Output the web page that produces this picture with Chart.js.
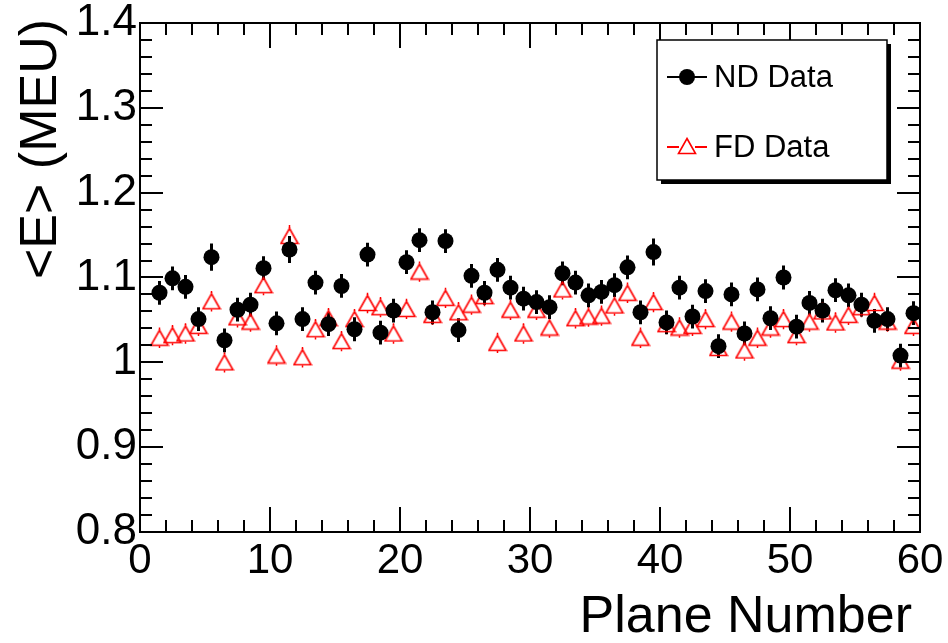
<!DOCTYPE html>
<html>
<head>
<meta charset="utf-8">
<script src="https://cdn.jsdelivr.net/npm/chart.js@4"></script>
<style>
  html, body { margin: 0; padding: 0; background: #fff; }
  #wrap { width: 948px; height: 643px; }
</style>
</head>
<body>
<div id="wrap"><canvas id="chart" width="948" height="643"></canvas></div>
<script>
// Plane numbers (bin centres)
const planes = [
  1.5, 2.5, 3.5, 4.5, 5.5, 6.5, 7.5, 8.5, 9.5, 10.5,
  11.5, 12.5, 13.5, 14.5, 15.5, 16.5, 17.5, 18.5, 19.5, 20.5,
  21.5, 22.5, 23.5, 24.5, 25.5, 26.5, 27.5, 28.5, 29.5, 30.5,
  31.5, 32.5, 33.5, 34.5, 35.5, 36.5, 37.5, 38.5, 39.5, 40.5,
  41.5, 42.5, 43.5, 44.5, 45.5, 46.5, 47.5, 48.5, 49.5, 50.5,
  51.5, 52.5, 53.5, 54.5, 55.5, 56.5, 57.5, 58.5, 59.5
];

// <E> (MEU), near detector
const ndMean = [
  1.082, 1.099, 1.089, 1.051, 1.124, 1.026, 1.062, 1.068, 1.111, 1.046,
  1.133, 1.051, 1.094, 1.045, 1.090, 1.039, 1.127, 1.035, 1.061, 1.118,
  1.144, 1.059, 1.143, 1.038, 1.102, 1.082, 1.109, 1.088, 1.075, 1.071,
  1.065, 1.105, 1.094, 1.079, 1.083, 1.091, 1.112, 1.059, 1.130, 1.047,
  1.088, 1.054, 1.084, 1.019, 1.080, 1.034, 1.086, 1.052, 1.100, 1.042,
  1.070, 1.061, 1.085, 1.079, 1.068, 1.049, 1.051, 1.008, 1.058
];
const ndErr = [
  0.014, 0.014, 0.014, 0.014, 0.016, 0.014, 0.014, 0.014, 0.014, 0.014,
  0.016, 0.014, 0.014, 0.014, 0.014, 0.014, 0.014, 0.014, 0.014, 0.014,
  0.014, 0.014, 0.014, 0.014, 0.014, 0.014, 0.014, 0.014, 0.014, 0.014,
  0.014, 0.014, 0.014, 0.014, 0.014, 0.014, 0.014, 0.014, 0.016, 0.014,
  0.014, 0.014, 0.014, 0.014, 0.014, 0.014, 0.014, 0.014, 0.014, 0.014,
  0.014, 0.014, 0.014, 0.014, 0.014, 0.014, 0.014, 0.014, 0.014
];

// <E> (MEU), far detector
const fdMean = [
  1.029, 1.032, 1.034, 1.043, 1.072, 1.000, 1.053, 1.048, 1.091, 1.008,
  1.149, 1.006, 1.039, 1.052, 1.025, 1.051, 1.070, 1.065, 1.034, 1.063,
  1.107, 1.056, 1.076, 1.059, 1.068, 1.078, 1.023, 1.062, 1.034, 1.062,
  1.041, 1.086, 1.052, 1.054, 1.055, 1.067, 1.082, 1.029, 1.071, 1.045,
  1.041, 1.043, 1.051, 1.017, 1.048, 1.014, 1.029, 1.041, 1.051, 1.032,
  1.048, 1.060, 1.047, 1.056, 1.065, 1.070, 1.048, 1.002, 1.043
];
const fdErr = [
  0.012, 0.012, 0.012, 0.012, 0.012, 0.012, 0.012, 0.012, 0.012, 0.012,
  0.013, 0.012, 0.012, 0.012, 0.012, 0.012, 0.012, 0.012, 0.012, 0.012,
  0.012, 0.012, 0.012, 0.012, 0.012, 0.012, 0.012, 0.012, 0.012, 0.012,
  0.012, 0.012, 0.012, 0.012, 0.012, 0.012, 0.012, 0.012, 0.012, 0.012,
  0.012, 0.012, 0.012, 0.012, 0.012, 0.012, 0.012, 0.012, 0.012, 0.012,
  0.012, 0.012, 0.012, 0.012, 0.012, 0.012, 0.012, 0.012, 0.012
];

const xTicks = [0, 10, 20, 30, 40, 50, 60];
const yTicks = [0.8, 0.9, 1.0, 1.1, 1.2, 1.3, 1.4];
const xTitle = 'Plane Number';
const yTitle = '<E> (MEU)';

const FONT = "'Liberation Sans', Arial, Helvetica, sans-serif";
const RED = '#ff0000';

// open triangle marker, drawn symmetric about its centre like ROOT's
function makeTriangle() {
  const c = document.createElement('canvas');
  c.width = 20; c.height = 18;
  const g = c.getContext('2d');
  g.strokeStyle = RED;
  g.lineWidth = 1.6;
  g.beginPath();
  g.moveTo(10, 1.5);
  g.lineTo(18.5, 16.5);
  g.lineTo(1.5, 16.5);
  g.closePath();
  g.stroke();
  return c;
}
const triMarker = makeTriangle();

const toPts = (ys) => planes.map((x, i) => ({ x, y: ys[i] }));

// vertical error bars, leaving a gap where the marker sits
const errorBars = {
  id: 'errorBars',
  beforeDatasetsDraw(chart) {
    const { ctx, scales: { x, y } } = chart;
    const sets = [
      { mean: fdMean, err: fdErr, color: RED, width: 1.5, gap: 8 },
      { mean: ndMean, err: ndErr, color: '#000', width: 3, gap: 0 }
    ];
    ctx.save();
    sets.forEach(s => {
      ctx.strokeStyle = s.color;
      ctx.lineWidth = s.width;
      planes.forEach((p, i) => {
        const px = x.getPixelForValue(p);
        const py = y.getPixelForValue(s.mean[i]);
        const top = y.getPixelForValue(s.mean[i] + s.err[i]);
        const bot = y.getPixelForValue(s.mean[i] - s.err[i]);
        ctx.beginPath();
        if (top < py - s.gap) { ctx.moveTo(px, top); ctx.lineTo(px, py - s.gap); }
        if (bot > py + s.gap) { ctx.moveTo(px, py + s.gap); ctx.lineTo(px, bot); }
        ctx.stroke();
      });
    });
    ctx.restore();
  }
};

// ROOT-style frame with inward ticks on all four sides, axis titles and the legend box
const frame = {
  id: 'frame',
  afterDatasetsDraw(chart) {
    const { ctx, chartArea: a, scales: { x, y } } = chart;
    ctx.save();
    ctx.strokeStyle = '#000';
    ctx.lineWidth = 2;
    ctx.strokeRect(a.left, a.top, a.right - a.left, a.bottom - a.top);

    ctx.beginPath();
    for (let v = 0; v <= 60.001; v += 2) {
      const px = Math.round(x.getPixelForValue(v));
      const len = (Math.round(v) % 10 === 0) ? 25 : 12;
      ctx.moveTo(px, a.bottom); ctx.lineTo(px, a.bottom - len);
      ctx.moveTo(px, a.top); ctx.lineTo(px, a.top + len);
    }
    for (let k = 0; k <= 30; k++) {
      const v = 0.8 + k * 0.02;
      const py = Math.round(y.getPixelForValue(v));
      const len = (k % 5 === 0) ? 23 : 12;
      ctx.moveTo(a.left, py); ctx.lineTo(a.left + len, py);
      ctx.moveTo(a.right, py); ctx.lineTo(a.right - len, py);
    }
    ctx.stroke();

    // axis titles
    ctx.fillStyle = '#000';
    ctx.font = '52px ' + FONT;
    ctx.textAlign = 'right';
    ctx.textBaseline = 'alphabetic';
    ctx.fillText(xTitle, a.right - 8, 632);
    ctx.save();
    ctx.translate(42, a.top - 4);
    ctx.rotate(-Math.PI / 2);
    ctx.textBaseline = 'middle';
    ctx.fillText(yTitle, 0, 0);
    ctx.restore();

    // legend
    const bx = 657, by = 40, bw = 230, bh = 140;
    ctx.fillStyle = '#000';
    ctx.fillRect(bx + 4, by + 4, bw, bh);
    ctx.fillStyle = '#fff';
    ctx.fillRect(bx, by, bw, bh);
    ctx.lineWidth = 1.5;
    ctx.strokeRect(bx, by, bw, bh);

    const rows = [
      { ds: chart.data.datasets[0], y: 77, color: '#000' },
      { ds: chart.data.datasets[1], y: 147, color: RED }
    ];
    rows.forEach((r, i) => {
      ctx.strokeStyle = r.color;
      ctx.lineWidth = 2;
      ctx.beginPath();
      ctx.moveTo(667, r.y); ctx.lineTo(707, r.y);
      ctx.stroke();
      if (i === 0) {
        ctx.fillStyle = '#000';
        ctx.beginPath();
        ctx.arc(687, r.y, 8, 0, Math.PI * 2);
        ctx.fill();
      } else {
        ctx.fillStyle = '#fff';
        ctx.fillRect(679, r.y - 7, 16, 14);
        ctx.drawImage(triMarker, 687 - 10, r.y - 10);
      }
      ctx.fillStyle = '#000';
      ctx.font = '31px ' + FONT;
      ctx.textBaseline = 'middle';
      ctx.textAlign = 'left';
      ctx.fillText(r.ds.label, 714, r.y + 1);
    });
    ctx.restore();
  }
};

new Chart(document.getElementById('chart'), {
  type: 'scatter',
  data: {
    datasets: [
      {
        label: 'ND Data',
        data: toPts(ndMean),
        pointStyle: 'circle',
        pointRadius: 8,
        pointHoverRadius: 8,
        backgroundColor: '#000',
        borderWidth: 0
      },
      {
        label: 'FD Data',
        data: toPts(fdMean),
        pointStyle: triMarker,
        pointRadius: 9,
        pointHoverRadius: 9,
        backgroundColor: 'transparent',
        borderColor: RED,
        borderWidth: 0
      }
    ]
  },
  options: {
    responsive: false,
    animation: false,
    layout: { padding: { left: 0, right: 28, top: 23, bottom: 0 } },
    plugins: {
      legend: { display: false },
      tooltip: { enabled: false }
    },
    scales: {
      x: {
        type: 'linear',
        min: 0, max: 60,
        afterBuildTicks: s => { s.ticks = xTicks.map(v => ({ value: v })); },
        afterFit: s => { s.height = 111; s.paddingLeft = 0; s.paddingRight = 0; },
        grid: { display: false, drawTicks: false },
        border: { display: false },
        ticks: {
          color: '#000',
          font: { family: FONT, size: 42 },
          padding: 4,
          maxRotation: 0,
          autoSkip: false
        }
      },
      y: {
        type: 'linear',
        min: 0.8, max: 1.4,
        afterBuildTicks: s => { s.ticks = yTicks.map(v => ({ value: v })); },
        afterFit: s => { s.width = 140; s.paddingTop = 0; s.paddingBottom = 0; },
        grid: { display: false, drawTicks: false },
        border: { display: false },
        ticks: {
          color: '#000',
          font: { family: FONT, size: 44 },
          padding: 3,
          autoSkip: false,
          callback: v => String(Math.round(v * 10) / 10)
        }
      }
    }
  },
  plugins: [errorBars, frame]
});
</script>
</body>
</html>
